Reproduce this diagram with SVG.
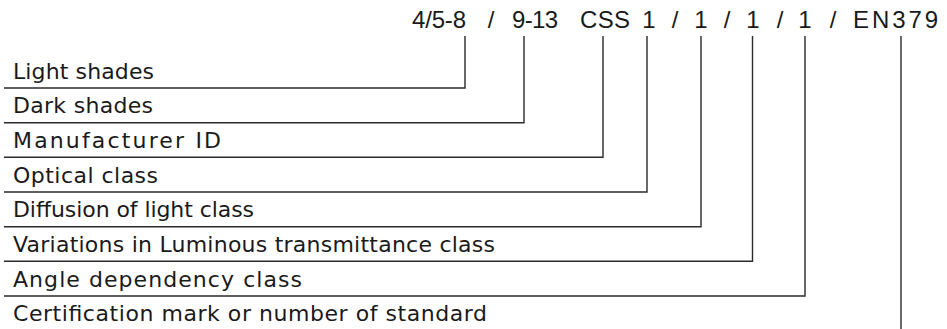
<svg xmlns="http://www.w3.org/2000/svg" width="947" height="329" viewBox="0 0 947 329">
<style>
.lbl{font-family:"DejaVu Sans","Liberation Sans",sans-serif;font-size:22px;fill:#1a1a1a}
.code{font-family:"Liberation Sans","DejaVu Sans",sans-serif;font-size:24px;fill:#1a1a1a}
.mid{text-anchor:middle}
.conn{fill:none;stroke:#2a2a2a;stroke-width:1.4}
</style>
<rect width="947" height="329" fill="#ffffff"/>
<g id="code">
<text class="code" x="412" y="28" textLength="54" lengthAdjust="spacing">4/5-8</text>
<text class="code mid" x="491" y="28">/</text>
<text class="code" x="512" y="28" textLength="46" lengthAdjust="spacing">9-13</text>
<text class="code" x="580" y="28" textLength="50" lengthAdjust="spacing">CSS</text>
<text class="code mid" x="649" y="28">1</text>
<text class="code mid" x="675" y="28">/</text>
<text class="code mid" x="701" y="28">1</text>
<text class="code mid" x="727" y="28">/</text>
<text class="code mid" x="753" y="28">1</text>
<text class="code mid" x="780" y="28">/</text>
<text class="code mid" x="805" y="28">1</text>
<text class="code mid" x="833" y="28">/</text>
<text class="code" x="853" y="28" textLength="85" lengthAdjust="spacing">EN379</text>
</g>
<g id="light-shades"><text class="lbl" x="13" y="79" textLength="141" lengthAdjust="spacing">Light shades</text></g>
<g id="dark-shades"><text class="lbl" x="13" y="113" textLength="140" lengthAdjust="spacing">Dark shades</text></g>
<g id="manufacturer-id"><text class="lbl" x="13" y="148" textLength="208" lengthAdjust="spacing">Manufacturer ID</text></g>
<g id="optical-class"><text class="lbl" x="13" y="182.5" textLength="145" lengthAdjust="spacing">Optical class</text></g>
<g id="diffusion-class"><text class="lbl" x="13" y="217" textLength="241" lengthAdjust="spacing">Diffusion of light class</text></g>
<g id="variations-class"><text class="lbl" x="13" y="252" textLength="482" lengthAdjust="spacing">Variations in Luminous transmittance class</text></g>
<g id="angle-class"><text class="lbl" x="13" y="286.5" textLength="289" lengthAdjust="spacing">Angle dependency class</text></g>
<g id="certification"><text class="lbl" x="13" y="321" textLength="474" lengthAdjust="spacing">Certification mark or number of standard</text></g>
<g id="connectors" class="conn">
<path d="M4 88H465V36"/>
<path d="M4 122.7H524V36"/>
<path d="M4 157.3H603V36"/>
<path d="M4 192H647V36"/>
<path d="M4 226.7H701V36"/>
<path d="M4 261.3H752.5V36"/>
<path d="M4 296H805V36"/>
<path d="M901 36V329"/>
</g>
</svg>
